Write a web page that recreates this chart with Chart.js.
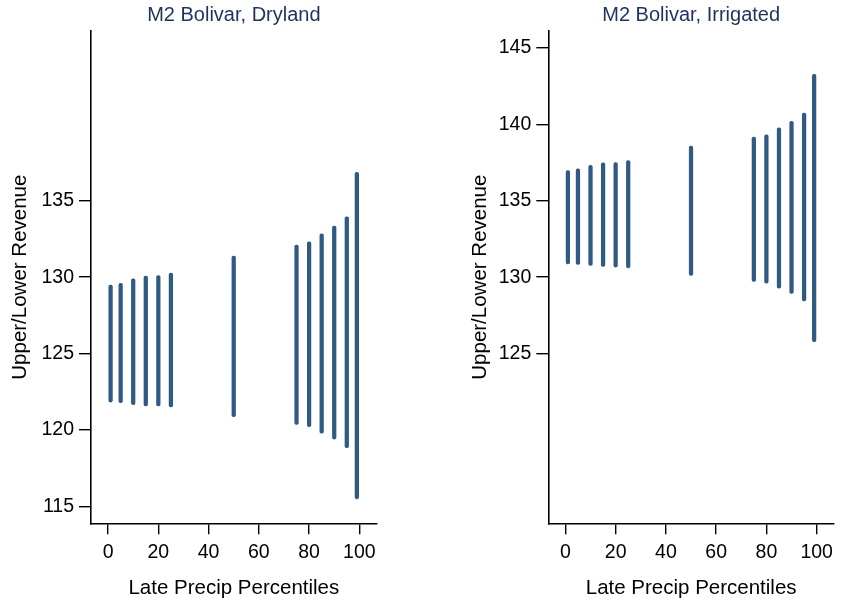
<!DOCTYPE html>
<html>
<head>
<meta charset="utf-8">
<script src="https://cdn.jsdelivr.net/npm/chart.js@4/dist/chart.umd.min.js"></script>
<style>
  html, body { margin:0; padding:0; background:#fff; }
  #wrap { position:relative; width:841px; height:604px; }
  .panel { position:absolute; top:0; height:604px; }
  #pLeft { left:0; width:420px; }
  #pRight { left:420px; width:421px; }
</style>
</head>
<body>
<div id="wrap">
  <div class="panel" id="pLeft"><canvas id="chartDry"></canvas></div>
  <div class="panel" id="pRight"><canvas id="chartIrr"></canvas></div>
</div>
<script>
// late precip percentiles (x)
const pct = [1, 5, 10, 15, 20, 25, 50, 75, 80, 85, 90, 95, 99];

// Dryland lower / upper revenue
const dryLower = [121.83, 121.79, 121.66, 121.57, 121.57, 121.51, 120.87, 120.37, 120.22, 119.80, 119.41, 118.84, 115.50];
const dryUpper = [129.48, 129.59, 129.89, 130.07, 130.11, 130.26, 131.38, 132.10, 132.31, 132.84, 133.34, 133.95, 136.86];

// Irrigated lower / upper revenue
const irrLower = [130.87, 130.83, 130.77, 130.70, 130.66, 130.61, 130.11, 129.72, 129.61, 129.28, 128.93, 128.45, 125.78];
const irrUpper = [136.97, 137.08, 137.32, 137.48, 137.50, 137.63, 138.57, 139.16, 139.31, 139.77, 140.19, 140.73, 143.27];

// tick labels
const xTicks = [0, 20, 40, 60, 80, 100];
const dryYTicks = [115, 120, 125, 130, 135];
const irrYTicks = [125, 130, 135, 140, 145];

const titles = ["M2 Bolivar, Dryland", "M2 Bolivar, Irrigated"];
const xTitle = "Late Precip Percentiles";
const yTitle = "Upper/Lower Revenue";

const barColor = "#2f5a84";
const titleColor = "#1e325c";
const FONT = "'Liberation Sans', Arial, sans-serif";

function makeChart(canvasId, lower, upper, yTicks, title, padLeft, padRight, yTitlePad){
  const ctx = document.getElementById(canvasId).getContext("2d");
  const data = pct.map((p, i) => ({ x: p, y: [lower[i], upper[i]] }));
  return new Chart(ctx, {
    type: "bar",
    data: { datasets: [{
      data,
      backgroundColor: barColor,
      borderWidth: 0,
      barThickness: 3.6,
      borderRadius: 2,
      borderSkipped: false
    }]},
    options: {
      responsive: true,
      maintainAspectRatio: false,
      animation: false,
      layout: { padding: { left: padLeft, right: padRight, top: 0, bottom: 0 } },
      plugins: {
        legend: { display: false },
        tooltip: { enabled: false },
        title: {
          display: true, text: title, fullSize: false,
          color: titleColor, font: { family: FONT, size: 20, weight: "normal" },
          padding: { top: 3, bottom: 4 }
        }
      },
      scales: {
        x: {
          type: "linear", min: -6.8, max: 106.9, offset: false,
          afterBuildTicks: s => { s.ticks = xTicks.map(v => ({ value: v })); },
          afterFit: s => { s.height = 80.7; },
          grid: { offset: false, drawOnChartArea: false, drawTicks: true, tickLength: 11, color: "#000", lineWidth: 1.4 },
          border: { display: true, color: "#000", width: 1.6 },
          ticks: { color: "#000", font: { family: FONT, size: 19.5 }, padding: 7, maxRotation: 0 },
          title: { display: true, text: xTitle, color: "#000", font: { family: FONT, size: 20.5 }, padding: { top: 0, bottom: 3 } }
        },
        y: {
          type: "linear", min: 113.9, max: 146.1,
          afterBuildTicks: s => { s.ticks = yTicks.map(v => ({ value: v })); },
          afterFit: s => { s.width = 91; },
          grid: { drawOnChartArea: false, drawTicks: true, tickLength: 12, color: "#000", lineWidth: 1.4 },
          border: { display: true, color: "#000", width: 1.6 },
          ticks: { color: "#000", font: { family: FONT, size: 19.5 }, padding: 5 },
          title: { display: true, text: yTitle, color: "#000", font: { family: FONT, size: 20.5 }, padding: { top: yTitlePad, bottom: 0 } }
        }
      }
    }
  });
}

makeChart("chartDry", dryLower, dryUpper, dryYTicks, titles[0], 0, 43.3, 8.5);
makeChart("chartIrr", irrLower, irrUpper, irrYTicks, titles[1], 37.3, 7, 11);
</script>
</body>
</html>
